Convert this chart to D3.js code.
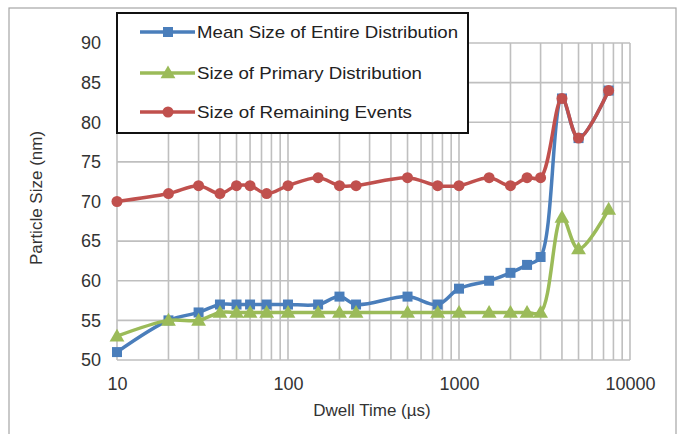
<!DOCTYPE html>
<html>
<head>
<meta charset="utf-8">
<script src="https://cdn.jsdelivr.net/npm/d3@7"></script>
<style>
  html, body { margin: 0; padding: 0; background: #fff; }
  svg { display: block; font-family: "Liberation Sans", Arial, sans-serif; }
</style>
</head>
<body>
<svg id="chart" width="684" height="434"></svg>
<script>
// ---- data ----
const dwellTimes = [10, 20, 30, 40, 50, 60, 75, 100, 150, 200, 250, 500, 750, 1000, 1500, 2000, 2500, 3000, 4000, 5000, 7500];
const meanEntire = [51, 55, 56, 57, 57, 57, 57, 57, 57, 58, 57, 58, 57, 59, 60, 61, 62, 63, 83, 78, 84];
const primary    = [53, 55, 55, 56, 56, 56, 56, 56, 56, 56, 56, 56, 56, 56, 56, 56, 56, 56, 68, 64, 69];
const remaining  = [70, 71, 72, 71, 72, 72, 71, 72, 73, 72, 72, 73, 72, 72, 73, 72, 73, 73, 83, 78, 84];
const seriesNames = ["Mean Size of Entire Distribution", "Size of Primary Distribution", "Size of Remaining Events"];
const xTickLabels = [10, 100, 1000, 10000];
const yTickLabels = [50, 55, 60, 65, 70, 75, 80, 85, 90];

// ---- layout ----
const svg = d3.select("#chart");
const pL = 117, pR = 630, pT = 43, pB = 360;
const x = d3.scaleLog().domain([10, 10000]).range([pL, pR]);
const y = d3.scaleLinear().domain([50, 90]).range([pB, pT]);

const colors = ["#4a7ebb", "#9bbb59", "#c0504d"];
const symbols = [d3.symbolSquare, d3.symbolTriangle, d3.symbolCircle];
const symSizes = [100, 95, 95];
const seriesData = [meanEntire, primary, remaining];

// outer frame
svg.append("rect").attr("x", 9).attr("y", 8).attr("width", 667).attr("height", 440)
  .attr("fill", "none").attr("stroke", "#a6a6a6").attr("stroke-width", 1.2);

// gridlines
const gridColor = "#bfbfbf";
const minorTicks = [];
for (let d = 10; d < 10000; d *= 10) for (let k = 1; k <= 10; k++) minorTicks.push(d * k);
const g = svg.append("g");
g.selectAll("line.v").data(Array.from(new Set(minorTicks))).enter().append("line")
  .attr("x1", d => x(d)).attr("x2", d => x(d)).attr("y1", pT).attr("y2", pB)
  .attr("stroke", gridColor).attr("stroke-width", 1.6);
g.selectAll("line.h").data(yTickLabels).enter().append("line")
  .attr("x1", pL).attr("x2", pR).attr("y1", d => y(d)).attr("y2", d => y(d))
  .attr("stroke", gridColor).attr("stroke-width", 1.6);

// axes using d3 axes
const xAxis = d3.axisBottom(x).tickValues(xTickLabels).tickFormat(d3.format("d")).tickSize(0).tickPadding(17);
const yAxis = d3.axisLeft(y).tickValues(yTickLabels).tickFormat(d3.format("d")).tickSize(0).tickPadding(16);
const gx = svg.append("g").attr("transform", `translate(0,${pB})`).call(xAxis);
const gy = svg.append("g").attr("transform", `translate(${pL},0)`).call(yAxis);
[gx, gy].forEach(a => {
  a.select(".domain").remove();
  a.selectAll("text").attr("font-size", 18).attr("fill", "#333").attr("font-family", "Liberation Sans, Arial, sans-serif");
});

// axis titles
svg.append("text").attr("x", 372).attr("y", 416).attr("text-anchor", "middle")
  .attr("font-size", 17).attr("fill", "#333").text("Dwell Time  (µs)");
svg.append("text").attr("transform", "translate(42,198) rotate(-90)").attr("text-anchor", "middle")
  .attr("font-size", 17).attr("fill", "#333").text("Particle  Size  (nm)");

// series
const line = d3.line().x(d => x(d[0])).y(d => y(d[1])).curve(d3.curveCatmullRom.alpha(0.5));
seriesData.forEach((vals, i) => {
  const pts = dwellTimes.map((t, j) => [t, vals[j]]);
  svg.append("path").datum(pts).attr("d", line).attr("fill", "none")
    .attr("stroke", colors[i]).attr("stroke-width", 3.5).attr("stroke-linejoin", "round");
  svg.append("g").selectAll("path").data(pts).enter().append("path")
    .attr("d", d3.symbol().type(symbols[i]).size(symSizes[i]))
    .attr("transform", d => `translate(${x(d[0])},${y(d[1]) + (i === 1 ? 1 : 0)})`)
    .attr("fill", colors[i]);
});

// legend
const lg = svg.append("g");
lg.append("rect").attr("x", 117).attr("y", 13).attr("width", 351).attr("height", 120)
  .attr("fill", "#fff").attr("stroke", "#111").attr("stroke-width", 2);
const rowsY = [32, 73, 112];
const textLens = [261, 225, 215];
seriesNames.forEach((name, i) => {
  lg.append("line").attr("x1", 140).attr("x2", 195).attr("y1", rowsY[i]).attr("y2", rowsY[i])
    .attr("stroke", colors[i]).attr("stroke-width", 3.5);
  lg.append("path").attr("d", d3.symbol().type(symbols[i]).size(symSizes[i]))
    .attr("transform", `translate(168,${rowsY[i] + (i === 1 ? 1 : 0)})`).attr("fill", colors[i]);
  lg.append("text").attr("x", 197).attr("y", rowsY[i] + 6).attr("font-size", 17).attr("fill", "#222")
    .attr("textLength", textLens[i]).attr("lengthAdjust", "spacingAndGlyphs")
    .text(name);
});
</script>
</body>
</html>
